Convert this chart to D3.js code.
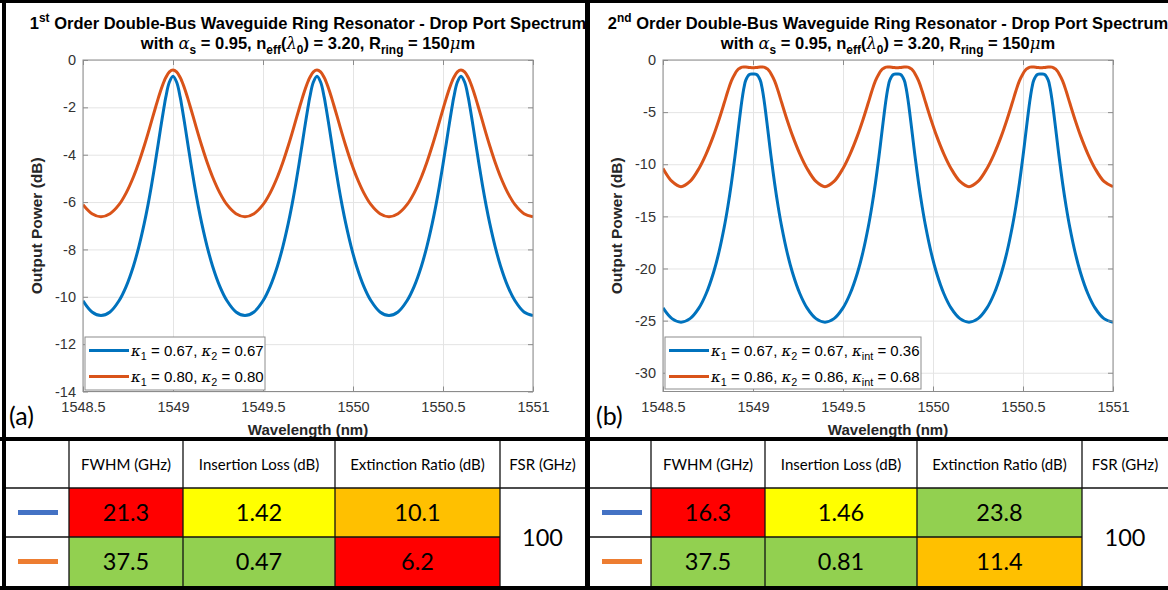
<!DOCTYPE html>
<html>
<head>
<meta charset="utf-8">
<script src="https://cdn.jsdelivr.net/npm/d3@7"></script>
<style>
  html, body { margin: 0; padding: 0; background: #fff; }
  svg { display: block; }
</style>
</head>
<body>
<svg id="fig" width="1168" height="590"></svg>
<script>
// ---------------------------------------------------------------------------
// Drop-port spectra (dB) sampled on a shared wavelength grid (nm)
// ---------------------------------------------------------------------------
const wavelengthNm = [
  1548.50, 1548.55,
  1548.60, 1548.65, 1548.70, 1548.74, 1548.78, 1548.81, 1548.84, 1548.86, 1548.88, 1548.90, 1548.91, 1548.92, 1548.93, 1548.94, 1548.95, 1548.96, 1548.98,
  1549.00, 1549.02, 1549.04, 1549.05, 1549.06, 1549.07, 1549.08, 1549.09, 1549.10, 1549.12, 1549.14, 1549.16, 1549.19, 1549.22, 1549.26, 1549.30, 1549.35,
  1549.40, 1549.45, 1549.50, 1549.54, 1549.58, 1549.61, 1549.64, 1549.66, 1549.68, 1549.70, 1549.71, 1549.72, 1549.73, 1549.74, 1549.75, 1549.76, 1549.78,
  1549.80, 1549.82, 1549.84, 1549.85, 1549.86, 1549.87, 1549.88, 1549.89, 1549.90, 1549.92, 1549.94, 1549.96, 1549.99, 1550.02, 1550.06, 1550.10, 1550.15,
  1550.20, 1550.25, 1550.30, 1550.34, 1550.38, 1550.41, 1550.44, 1550.46, 1550.48, 1550.50, 1550.51, 1550.52, 1550.53, 1550.54, 1550.55, 1550.56, 1550.58,
  1550.60, 1550.62, 1550.64, 1550.65, 1550.66, 1550.67, 1550.68, 1550.69, 1550.70, 1550.72, 1550.74, 1550.76, 1550.79, 1550.82, 1550.86, 1550.90, 1550.95,
  1551.00
];

// 1st order, kappa1 = kappa2 = 0.67
const firstOrderK067 = [
  -10.17, -10.64,
  -10.79, -10.64, -10.17, -9.56, -8.71, -7.89, -6.91, -6.16, -5.32, -4.40, -3.92, -3.43, -2.94, -2.46, -2.00, -1.57, -0.93,
  -0.69, -0.93, -1.57, -2.00, -2.46, -2.94, -3.43, -3.92, -4.40, -5.32, -6.16, -6.91, -7.89, -8.71, -9.56, -10.17, -10.64,
  -10.79, -10.64, -10.17, -9.56, -8.71, -7.89, -6.91, -6.16, -5.32, -4.40, -3.92, -3.43, -2.94, -2.46, -2.00, -1.57, -0.93,
  -0.69, -0.93, -1.57, -2.00, -2.46, -2.94, -3.43, -3.92, -4.40, -5.32, -6.16, -6.91, -7.89, -8.71, -9.56, -10.17, -10.64,
  -10.79, -10.64, -10.17, -9.56, -8.71, -7.89, -6.91, -6.16, -5.32, -4.40, -3.92, -3.43, -2.94, -2.46, -2.00, -1.57, -0.93,
  -0.69, -0.93, -1.57, -2.00, -2.46, -2.94, -3.43, -3.92, -4.40, -5.32, -6.16, -6.91, -7.89, -8.71, -9.56, -10.17, -10.64,
  -10.79
];

// 1st order, kappa1 = kappa2 = 0.80
const firstOrderK080 = [
  -6.11, -6.49,
  -6.62, -6.49, -6.11, -5.61, -4.94, -4.33, -3.63, -3.13, -2.60, -2.08, -1.82, -1.57, -1.33, -1.11, -0.91, -0.74, -0.50,
  -0.42, -0.50, -0.74, -0.91, -1.11, -1.33, -1.57, -1.82, -2.08, -2.60, -3.13, -3.63, -4.33, -4.94, -5.61, -6.11, -6.49,
  -6.62, -6.49, -6.11, -5.61, -4.94, -4.33, -3.63, -3.13, -2.60, -2.08, -1.82, -1.57, -1.33, -1.11, -0.91, -0.74, -0.50,
  -0.42, -0.50, -0.74, -0.91, -1.11, -1.33, -1.57, -1.82, -2.08, -2.60, -3.13, -3.63, -4.33, -4.94, -5.61, -6.11, -6.49,
  -6.62, -6.49, -6.11, -5.61, -4.94, -4.33, -3.63, -3.13, -2.60, -2.08, -1.82, -1.57, -1.33, -1.11, -0.91, -0.74, -0.50,
  -0.42, -0.50, -0.74, -0.91, -1.11, -1.33, -1.57, -1.82, -2.08, -2.60, -3.13, -3.63, -4.33, -4.94, -5.61, -6.11, -6.49,
  -6.62
];

// 2nd order, kappa1 = kappa2 = 0.67, kappa_int = 0.36
const secondOrderK067 = [
  -23.78, -24.81,
  -25.15, -24.81, -23.78, -22.40, -20.43, -18.49, -16.05, -14.09, -11.82, -9.22, -7.81, -6.37, -4.96, -3.68, -2.64, -1.93, -1.39,
  -1.35, -1.39, -1.93, -2.64, -3.68, -4.96, -6.37, -7.81, -9.22, -11.82, -14.09, -16.05, -18.49, -20.43, -22.40, -23.78, -24.81,
  -25.15, -24.81, -23.78, -22.40, -20.43, -18.49, -16.05, -14.09, -11.82, -9.22, -7.81, -6.37, -4.96, -3.68, -2.64, -1.93, -1.39,
  -1.35, -1.39, -1.93, -2.64, -3.68, -4.96, -6.37, -7.81, -9.22, -11.82, -14.09, -16.05, -18.49, -20.43, -22.40, -23.78, -24.81,
  -25.15, -24.81, -23.78, -22.40, -20.43, -18.49, -16.05, -14.09, -11.82, -9.22, -7.81, -6.37, -4.96, -3.68, -2.64, -1.93, -1.39,
  -1.35, -1.39, -1.93, -2.64, -3.68, -4.96, -6.37, -7.81, -9.22, -11.82, -14.09, -16.05, -18.49, -20.43, -22.40, -23.78, -24.81,
  -25.15
];

// 2nd order, kappa1 = kappa2 = 0.86, kappa_int = 0.68
const secondOrderK086 = [
  -10.40, -11.65,
  -12.15, -11.65, -10.40, -9.00, -7.28, -5.78, -4.13, -3.00, -2.00, -1.32, -1.05, -0.86, -0.75, -0.68, -0.67, -0.68, -0.72,
  -0.75, -0.72, -0.68, -0.67, -0.68, -0.75, -0.86, -1.05, -1.32, -2.00, -3.00, -4.13, -5.78, -7.28, -9.00, -10.40, -11.65,
  -12.15, -11.65, -10.40, -9.00, -7.28, -5.78, -4.13, -3.00, -2.00, -1.32, -1.05, -0.86, -0.75, -0.68, -0.67, -0.68, -0.72,
  -0.75, -0.72, -0.68, -0.67, -0.68, -0.75, -0.86, -1.05, -1.32, -2.00, -3.00, -4.13, -5.78, -7.28, -9.00, -10.40, -11.65,
  -12.15, -11.65, -10.40, -9.00, -7.28, -5.78, -4.13, -3.00, -2.00, -1.32, -1.05, -0.86, -0.75, -0.68, -0.67, -0.68, -0.72,
  -0.75, -0.72, -0.68, -0.67, -0.68, -0.75, -0.86, -1.05, -1.32, -2.00, -3.00, -4.13, -5.78, -7.28, -9.00, -10.40, -11.65,
  -12.15
];

// Axis ticks
const wavelengthTicks = [1548.5, 1549, 1549.5, 1550, 1550.5, 1551];
const powerTicksFirst = [0, -2, -4, -6, -8, -10, -12, -14];
const powerTicksSecond = [0, -5, -10, -15, -20, -25, -30];

// Figure-of-merit tables
const tableHeaders = ['FWHM (GHz)', 'Insertion Loss (dB)', 'Extinction Ratio (dB)', 'FSR (GHz)'];
const fwhmFirst = [21.3, 37.5];
const insertionLossFirst = [1.42, 0.47];
const extinctionFirst = [10.1, 6.2];
const fwhmSecond = [16.3, 37.5];
const insertionLossSecond = [1.46, 0.81];
const extinctionSecond = [23.8, 11.4];
const fsrGHz = 100;

// ---------------------------------------------------------------------------
// Styling and layout
// ---------------------------------------------------------------------------
const BLUE = '#0072BD', ORANGE = '#D95319';
const SANS = '"Liberation Sans", Arial, Helvetica, sans-serif';
const TABLE_FONT = 'Lato, "Open Sans", sans-serif';
const GREEK = '"DejaVu Serif", serif';
const TITLE_SIZE = 16.5;

const svg = d3.select('#fig');
const defs = svg.append('defs');

// Text with sub/superscripts and TeX-like greek glyphs
function rich(textSel, parts, size) {
  let shift = 0;
  parts.forEach(p => {
    const target = p.sub ? size * 0.33 : p.sup ? -size * 0.42 : 0;
    const ts = textSel.append('tspan').text(p.t);
    if (target - shift !== 0) ts.attr('dy', target - shift);
    shift = target;
    if (p.sub || p.sup) ts.attr('font-size', size * 0.72);
    if (p.greek) ts.attr('font-family', GREEK).attr('font-style', 'italic').attr('font-weight', 'normal');
  });
}

const panels = [
  {
    id: 'a', left: 83, right: 533, top: 60, bottom: 391.5, clipX: [0, 586],
    yDomain: [-14, 0], yTicks: powerTicksFirst,
    order: [{ t: '1' }, { t: 'st', sup: true }, { t: ' Order Double-Bus Waveguide Ring Resonator - Drop Port Spectrum' }],
    series: [
      { values: firstOrderK067, color: BLUE,
        label: [{ t: 'κ', greek: true }, { t: '1', sub: true }, { t: ' = 0.67, ' }, { t: 'κ', greek: true }, { t: '2', sub: true }, { t: ' = 0.67' }] },
      { values: firstOrderK080, color: ORANGE,
        label: [{ t: 'κ', greek: true }, { t: '1', sub: true }, { t: ' = 0.80, ' }, { t: 'κ', greek: true }, { t: '2', sub: true }, { t: ' = 0.80' }] }
    ],
    legend: { x: 85, y: 337, w: 180, h: 53 },
    tag: '(a)', tagX: 9
  },
  {
    id: 'b', left: 663, right: 1113, top: 60, bottom: 391.5, clipX: [590, 1168],
    yDomain: [-31.8, 0], yTicks: powerTicksSecond,
    order: [{ t: '2' }, { t: 'nd', sup: true }, { t: ' Order Double-Bus Waveguide Ring Resonator - Drop Port Spectrum' }],
    series: [
      { values: secondOrderK067, color: BLUE,
        label: [{ t: 'κ', greek: true }, { t: '1', sub: true }, { t: ' = 0.67, ' }, { t: 'κ', greek: true }, { t: '2', sub: true }, { t: ' = 0.67, ' }, { t: 'κ', greek: true }, { t: 'int', sub: true }, { t: ' = 0.36' }] },
      { values: secondOrderK086, color: ORANGE,
        label: [{ t: 'κ', greek: true }, { t: '1', sub: true }, { t: ' = 0.86, ' }, { t: 'κ', greek: true }, { t: '2', sub: true }, { t: ' = 0.86, ' }, { t: 'κ', greek: true }, { t: 'int', sub: true }, { t: ' = 0.68' }] }
    ],
    legend: { x: 665, y: 337, w: 256, h: 52 },
    tag: '(b)', tagX: 596
  }
];

function drawPanel(p) {
  defs.append('clipPath').attr('id', 'clip-' + p.id)
    .append('rect').attr('x', p.clipX[0]).attr('y', 0)
    .attr('width', p.clipX[1] - p.clipX[0]).attr('height', 437);
  defs.append('clipPath').attr('id', 'plot-' + p.id)
    .append('rect').attr('x', p.left).attr('y', p.top)
    .attr('width', p.right - p.left).attr('height', p.bottom - p.top);

  const g = svg.append('g').attr('clip-path', `url(#clip-${p.id})`);
  const x = d3.scaleLinear().domain([1548.5, 1551]).range([p.left, p.right]);
  const y = d3.scaleLinear().domain(p.yDomain).range([p.bottom, p.top]);
  const cx = (p.left + p.right) / 2;

  // Title
  const t1 = g.append('text').attr('x', cx).attr('y', 28.5).attr('text-anchor', 'middle')
    .attr('font-family', SANS).attr('font-weight', 'bold').attr('font-size', TITLE_SIZE).attr('fill', '#000');
  rich(t1, p.order, TITLE_SIZE);
  const t2 = g.append('text').attr('x', cx).attr('y', 48.5).attr('text-anchor', 'middle')
    .attr('font-family', SANS).attr('font-weight', 'bold').attr('font-size', TITLE_SIZE).attr('fill', '#000');
  rich(t2, [
    { t: 'with ' }, { t: 'α', greek: true }, { t: 's', sub: true }, { t: ' = 0.95, n' }, { t: 'eff', sub: true },
    { t: '(' }, { t: 'λ', greek: true }, { t: '0', sub: true }, { t: ') = 3.20, R' }, { t: 'ring', sub: true },
    { t: ' = 150' }, { t: 'μ', greek: true }, { t: 'm' }
  ], TITLE_SIZE);

  // Grid
  const h = p.bottom - p.top, w = p.right - p.left;
  g.append('g').attr('transform', `translate(0,${p.bottom})`)
    .call(d3.axisBottom(x).tickValues(wavelengthTicks).tickSize(-h).tickFormat(''))
    .call(s => { s.select('.domain').remove(); s.selectAll('line').attr('stroke', '#e4e4e4').attr('stroke-width', 1); });
  g.append('g').attr('transform', `translate(${p.left},0)`)
    .call(d3.axisLeft(y).tickValues(p.yTicks).tickSize(-w).tickFormat(''))
    .call(s => { s.select('.domain').remove(); s.selectAll('line').attr('stroke', '#e4e4e4').attr('stroke-width', 1); });

  // Spectra
  const line = d3.line().x(d => x(d[0])).y(d => y(d[1])).curve(d3.curveCatmullRom.alpha(0.5));
  const lg = g.append('g').attr('clip-path', `url(#plot-${p.id})`);
  p.series.forEach(s => {
    lg.append('path')
      .datum(wavelengthNm.map((wl, i) => [wl, s.values[i]]))
      .attr('d', line).attr('fill', 'none').attr('stroke', s.color)
      .attr('stroke-width', 3).attr('stroke-linejoin', 'round');
  });

  // Axes box and ticks
  g.append('rect').attr('x', p.left).attr('y', p.top).attr('width', w).attr('height', h)
    .attr('fill', 'none').attr('stroke', '#8c8c8c').attr('stroke-width', 1);

  const styleAxis = s => {
    s.select('.domain').remove();
    s.selectAll('line').attr('stroke', '#8c8c8c');
    s.selectAll('text').attr('font-family', SANS).attr('font-size', 14.5).attr('fill', '#333');
  };
  g.append('g').attr('transform', `translate(0,${p.bottom})`)
    .call(d3.axisBottom(x).tickValues(wavelengthTicks).tickSizeInner(-5).tickSizeOuter(0).tickPadding(10).tickFormat(d => String(d)))
    .call(styleAxis);
  g.append('g').attr('transform', `translate(0,${p.top})`)
    .call(d3.axisTop(x).tickValues(wavelengthTicks).tickSizeInner(-5).tickSizeOuter(0).tickFormat(''))
    .call(styleAxis);
  g.append('g').attr('transform', `translate(${p.left},0)`)
    .call(d3.axisLeft(y).tickValues(p.yTicks).tickSizeInner(-5).tickSizeOuter(0).tickPadding(7).tickFormat(d => String(d)))
    .call(styleAxis);
  g.append('g').attr('transform', `translate(${p.right},0)`)
    .call(d3.axisRight(y).tickValues(p.yTicks).tickSizeInner(-5).tickSizeOuter(0).tickFormat(''))
    .call(styleAxis);

  // Axis labels
  g.append('text').attr('x', cx).attr('y', 435).attr('text-anchor', 'middle')
    .attr('font-family', SANS).attr('font-weight', 'bold').attr('font-size', 15).attr('fill', '#262626')
    .text('Wavelength (nm)');
  g.append('text').attr('transform', `translate(${p.left - 41},${(p.top + p.bottom) / 2}) rotate(-90)`)
    .attr('text-anchor', 'middle')
    .attr('font-family', SANS).attr('font-weight', 'bold').attr('font-size', 15.5).attr('fill', '#262626')
    .text('Output Power (dB)');

  // Legend
  const L = p.legend;
  const lgd = g.append('g');
  lgd.append('rect').attr('x', L.x).attr('y', L.y).attr('width', L.w).attr('height', L.h)
    .attr('fill', '#fff').attr('stroke', '#8c8c8c').attr('stroke-width', 1);
  p.series.forEach((s, i) => {
    const yy = L.y + 13.5 + i * 26;
    lgd.append('line').attr('x1', L.x + 4).attr('x2', L.x + 44).attr('y1', yy).attr('y2', yy)
      .attr('stroke', s.color).attr('stroke-width', 3);
    const tx = lgd.append('text').attr('x', L.x + 46).attr('y', yy + 5)
      .attr('font-family', SANS).attr('font-size', 15).attr('fill', '#000');
    rich(tx, s.label, 15);
  });

  // Panel tag
  g.append('text').attr('x', p.tagX).attr('y', 425)
    .attr('font-family', TABLE_FONT).attr('font-size', 25).attr('fill', '#000').text(p.tag);
}

panels.forEach(drawPanel);

// ---------------------------------------------------------------------------
// Tables under each panel
// ---------------------------------------------------------------------------
const RED = '#FF0000', YELLOW = '#FFFF00', AMBER = '#FFC000', GREEN = '#92D050';
const tables = [
  { cols: [5, 69, 183, 335, 500, 585],
    values: [fwhmFirst, insertionLossFirst, extinctionFirst],
    fills: [[RED, YELLOW, AMBER], [GREEN, GREEN, RED]] },
  { cols: [589, 651, 765, 917, 1082, 1168],
    values: [fwhmSecond, insertionLossSecond, extinctionSecond],
    fills: [[RED, YELLOW, GREEN], [GREEN, GREEN, AMBER]] }
];
const rowsY = [440, 488, 537, 586];
const sampleColors = ['#4472C4', '#ED7D31'];
const VALUE_SIZE = 23.5;

tables.forEach(tb => {
  const g = svg.append('g');
  const c = tb.cols;
  // coloured cells
  for (let r = 0; r < 2; r++) {
    for (let k = 0; k < 3; k++) {
      g.append('rect').attr('x', c[k + 1]).attr('y', rowsY[r + 1])
        .attr('width', c[k + 2] - c[k + 1]).attr('height', rowsY[r + 2] - rowsY[r + 1])
        .attr('fill', tb.fills[r][k]);
      g.append('text').attr('x', (c[k + 1] + c[k + 2]) / 2).attr('y', (rowsY[r + 1] + rowsY[r + 2]) / 2 + 8.5)
        .attr('text-anchor', 'middle').attr('font-family', TABLE_FONT).attr('font-size', VALUE_SIZE)
        .attr('fill', '#000').text(String(tb.values[k][r]));
    }
    // series swatch
    const yy = (rowsY[r + 1] + rowsY[r + 2]) / 2;
    g.append('line').attr('x1', c[0] + 13).attr('x2', c[0] + 53).attr('y1', yy).attr('y2', yy)
      .attr('stroke', sampleColors[r]).attr('stroke-width', 5);
  }
  // headers
  tableHeaders.forEach((hd, k) => {
    g.append('text').attr('x', (c[k + 1] + c[k + 2]) / 2).attr('y', (rowsY[0] + rowsY[1]) / 2 + 5.5)
      .attr('text-anchor', 'middle').attr('font-family', TABLE_FONT).attr('font-size', 15)
      .attr('fill', '#000').text(hd);
  });
  // merged FSR cell
  g.append('text').attr('x', (c[4] + c[5]) / 2).attr('y', (rowsY[1] + rowsY[3]) / 2 + 8.5)
    .attr('text-anchor', 'middle').attr('font-family', TABLE_FONT).attr('font-size', VALUE_SIZE)
    .attr('fill', '#000').text(String(fsrGHz));

  // grid lines
  const ln = (x1, y1, x2, y2) => g.append('line').attr('x1', x1).attr('y1', y1).attr('x2', x2).attr('y2', y2)
    .attr('stroke', '#111').attr('stroke-width', 1.3);
  for (let k = 1; k < 5; k++) ln(c[k], rowsY[0], c[k], rowsY[3]);
  ln(c[0], rowsY[1], c[5], rowsY[1]);
  ln(c[0], rowsY[2], c[4], rowsY[2]);
});

// ---------------------------------------------------------------------------
// Figure frame
// ---------------------------------------------------------------------------
const frame = svg.append('g').attr('fill', '#000');
frame.append('rect').attr('x', 0).attr('y', 0).attr('width', 1168).attr('height', 3);
frame.append('rect').attr('x', 2).attr('y', 0).attr('width', 4).attr('height', 590);
frame.append('rect').attr('x', 585).attr('y', 0).attr('width', 5).attr('height', 590);
frame.append('rect').attr('x', 0).attr('y', 437).attr('width', 1168).attr('height', 4);
frame.append('rect').attr('x', 0).attr('y', 586).attr('width', 1168).attr('height', 4);
</script>
</body>
</html>
